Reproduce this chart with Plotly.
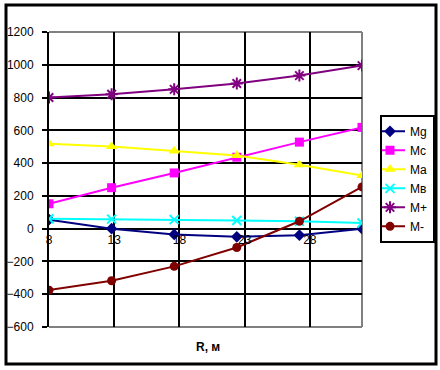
import plotly.graph_objects as go

R = [8, 12.8, 17.6, 22.4, 27.2, 32]
Mg = [55, 0, -35, -50, -40, 0]
Mc = [152, 250, 340, 436, 528, 618]
Ma = [518, 502, 474, 446, 390, 325]
Mv = [60, 58, 55, 50, 45, 35]
Mplus = [800, 820, 850, 886, 934, 995]
Mminus = [-375, -318, -230, -115, 45, 255]

series = [
    ("Mg", Mg, "#000080", "diamond", 9),
    ("Mc", Mc, "#FF00FF", "square", 9),
    ("Ma", Ma, "#FFFF00", "triangle-up", 10),
    ("Mв", Mv, "#00FFFF", "x-thin", 9),
    ("M+", Mplus, "#800080", "asterisk", 10),
    ("M-", Mminus, "#800000", "circle", 9),
]

fig = go.Figure()
for name, vals, col, sym, sz in series:
    if sym in ("x-thin", "asterisk"):
        marker = dict(symbol=sym, size=sz, color=col, line=dict(color=col, width=2))
    else:
        marker = dict(symbol=sym, size=sz, color=col, line=dict(width=0))
    fig.add_trace(go.Scatter(x=R, y=vals, name=name, mode="lines+markers",
                             line=dict(color=col, width=2), marker=marker))

L, Rm, T, B = 49, 78, 32, 42.5
W, H = 440, 370
pw = W - L - Rm
ph = H - T - B

def px(x):
    return (x - L) / pw

def py(y):
    return (H - B - y) / ph

font = dict(family="Liberation Sans, Arial, sans-serif", size=12, color="black")

fig.update_layout(
    width=W, height=H,
    margin=dict(l=L, r=Rm, t=T, b=B, autoexpand=False),
    paper_bgcolor="white", plot_bgcolor="white",
    font=font,
    showlegend=True,
    legend=dict(x=px(435), y=py(115), xanchor="right", yanchor="top",
                bordercolor="black", borderwidth=2, bgcolor="white",
                font=dict(family="Liberation Sans, Arial, sans-serif", size=12, color="black"),
                itemwidth=30, tracegroupgap=0, indentation=-12),
    xaxis=dict(range=[8, 32], tick0=8, dtick=5, anchor="free", position=600/1800,
               showgrid=True, gridcolor="black", gridwidth=2, zeroline=False,
               showline=False, ticks="", ticklabelstandoff=2, automargin=False,
               tickfont=font),
    yaxis=dict(range=[-600, 1200], dtick=200, showgrid=True, gridcolor="black",
               gridwidth=2, zeroline=False, showline=True, linecolor="black",
               linewidth=2, ticks="outside", ticklen=5, tickwidth=2, automargin=False,
               tickcolor="black", ticklabelstandoff=6, tickfont=font),
    shapes=[
        dict(type="line", xref="paper", yref="paper", x0=0, x1=1, y0=1, y1=1,
             line=dict(color="#808080", width=2), layer="between"),
        dict(type="line", xref="paper", yref="paper", x0=1, x1=1, y0=0, y1=1,
             line=dict(color="#808080", width=2), layer="between"),
        dict(type="line", xref="paper", yref="paper", x0=0, x1=1, y0=0, y1=0,
             line=dict(color="#808080", width=2), layer="between"),
        dict(type="rect", xref="paper", yref="paper", x0=px(6), x1=px(436),
             y0=py(364.5), y1=py(5), line=dict(color="black", width=3),
             layer="below"),
    ],
    annotations=[
        dict(text="<b>R, м</b>", xref="paper", yref="paper", x=px(208), y=py(348),
             xanchor="center", yanchor="middle", showarrow=False,
             font=dict(family="Liberation Sans, Arial, sans-serif", size=12, color="black")),
    ],
)

fig.write_html("out.html", config={"displayModeBar": False},
               post_script="document.body.style.margin='0';")
